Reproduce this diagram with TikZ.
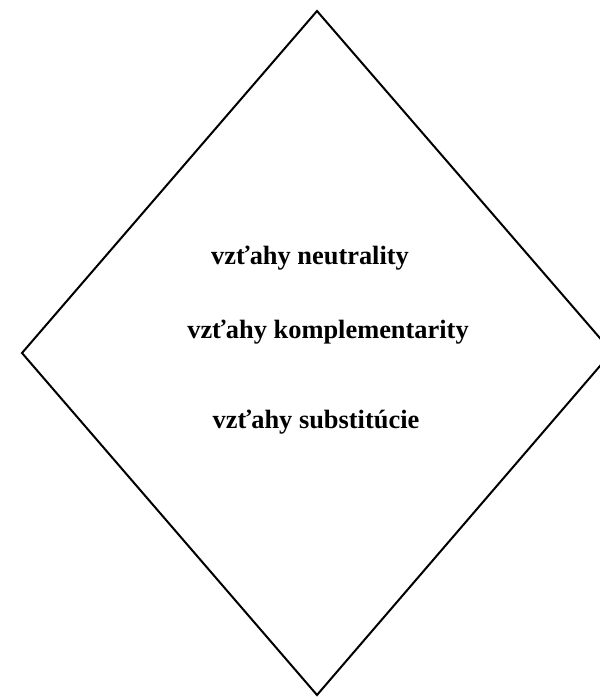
\documentclass[tikz,border=0pt]{standalone}
\usepackage{fontspec}
\setmainfont{Liberation Serif}
\begin{document}
\begin{tikzpicture}[x=1pt,y=-1pt,
  lbl/.style={font=\bfseries\fontsize{26.4}{30}\selectfont, inner sep=0pt}]
\useasboundingbox (0,0) rectangle (600,697);
\begin{scope}
\clip (0,0) rectangle (600,697);
\coordinate (T) at (317,11);
\coordinate (L) at (22,353);
\coordinate (R) at (612,352);
\coordinate (B) at (317,695);
\draw[line width=2pt, line join=miter] (T) -- (L) -- (B) -- (R) -- cycle;
\end{scope}
\node[lbl] (n1) at (310,258) {vzťahy neutrality};
\node[lbl] (n2) at (328,332) {vzťahy komplementarity};
\node[lbl] (n3) at (316,422) {vzťahy substitúcie};
\end{tikzpicture}
\end{document}
